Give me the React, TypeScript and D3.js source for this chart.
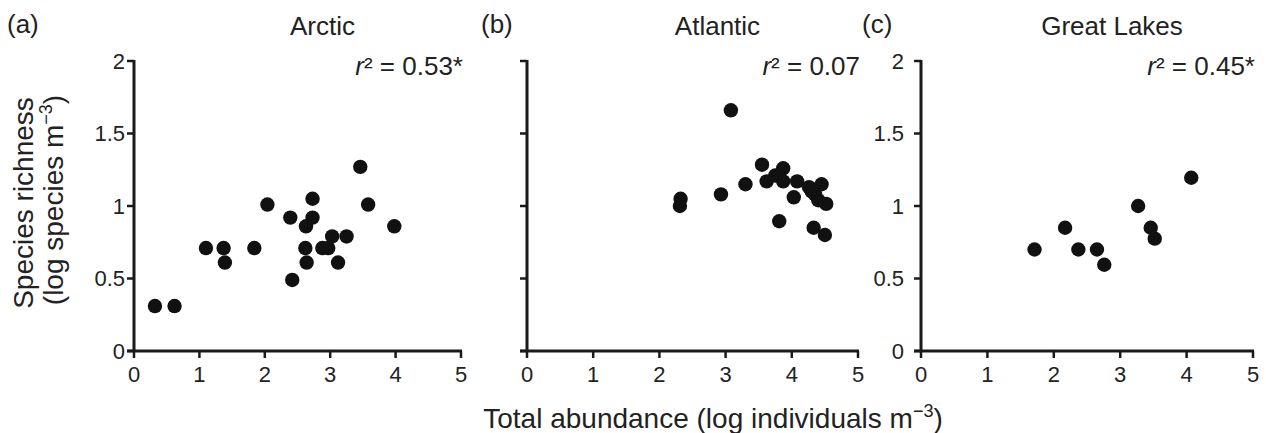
import React from 'react'
import * as d3 from 'd3'

// abundance (x) and richness (y), log scale
const arcticX = [0.32, 0.62, 1.1, 1.37, 1.39, 1.84, 2.04, 2.39, 2.42, 2.73, 2.73, 2.63, 2.62, 2.64, 2.88, 2.97, 3.03, 3.25, 3.12, 3.46, 3.58, 3.98];
const arcticY = [0.31, 0.31, 0.71, 0.71, 0.61, 0.71, 1.01, 0.92, 0.49, 1.05, 0.92, 0.86, 0.71, 0.61, 0.71, 0.71, 0.79, 0.79, 0.61, 1.27, 1.01, 0.86];

const atlanticX = [3.08, 2.32, 2.31, 2.93, 3.3, 3.55, 3.62, 3.75, 3.87, 3.87, 4.08, 4.26, 4.45, 4.35, 4.52, 4.03, 3.81, 4.33, 4.5, 4.3, 4.4];
const atlanticY = [1.66, 1.05, 1.0, 1.08, 1.15, 1.285, 1.17, 1.21, 1.26, 1.17, 1.17, 1.13, 1.15, 1.08, 1.015, 1.06, 0.895, 0.85, 0.8, 1.1, 1.04];

const lakesX = [1.71, 2.17, 2.37, 2.65, 2.76, 3.27, 3.46, 3.52, 4.07];
const lakesY = [0.7, 0.85, 0.7, 0.7, 0.595, 1.0, 0.85, 0.775, 1.195];

const xTicks = [0, 1, 2, 3, 4, 5];
const yTicks = [0, 0.5, 1, 1.5, 2];
const yTickLabels = ['0', '0.5', '1', '1.5', '2'];

const panelNames = ['Arctic', 'Atlantic', 'Great Lakes'];
const panelTags = ['(a)', '(b)', '(c)'];
const rSquared = ['0.53*', '0.07', '0.45*'];

const font = '"Liberation Sans", Arial, sans-serif';
const ink = '#1a1a1a';
const textInk = '#222';

const top = 61;
const bottom = 351;

const panels = [
  { left: 134, right: 461, tagX: 7, xs: arcticX, ys: arcticY, labels: true, labelGap: 9 },
  { left: 527, right: 858, tagX: 481, xs: atlanticX, ys: atlanticY, labels: false, labelGap: 9 },
  { left: 921, right: 1253, tagX: 862, xs: lakesX, ys: lakesY, labels: true, labelGap: 17 },
];

const Panel = ({ p, i }) => {
  const x = d3.scaleLinear().domain([0, 5]).range([p.left, p.right]);
  const y = d3.scaleLinear().domain([0, 2]).range([bottom, top]);
  const mid = (p.left + p.right) / 2 + 25;
  return (
    <g>
      <text x={p.tagX} y={33} fontSize={26} fill={textInk}>
        {panelTags[i]}
      </text>
      <text x={mid} y={35} fontSize={26} fill={textInk} textAnchor='middle'>
        {panelNames[i]}
      </text>
      <text x={p.right + 2} y={75} fontSize={26} fill={textInk} textAnchor='end'>
        <tspan fontStyle='italic'>r</tspan>² = {rSquared[i]}
      </text>

      {/* y axis */}
      <line x1={p.left} x2={p.left} y1={y(2) - 1} y2={y(0)} stroke={ink} strokeWidth={3} />
      {yTicks.map((t, k) => (
        <g key={k}>
          <line x1={p.left - 7} x2={p.left} y1={y(t)} y2={y(t)} stroke={ink} strokeWidth={2.5} />
          {p.labels && (
            <text x={p.left - p.labelGap} y={y(t)} dy='0.36em' fontSize={22}
              fill={textInk} textAnchor='end'>
              {yTickLabels[k]}
            </text>
          )}
        </g>
      ))}

      {/* x axis */}
      <line x1={x(0) - 7} x2={x(5) + 1} y1={y(0)} y2={y(0)} stroke={ink} strokeWidth={3} />
      {xTicks.map((t) => (
        <g key={t}>
          <line x1={x(t)} x2={x(t)} y1={y(0)} y2={y(0) + 7} stroke={ink} strokeWidth={2.5} />
          <text x={x(t)} y={382} fontSize={22} fill={textInk} textAnchor='middle'>
            {t}
          </text>
        </g>
      ))}

      {p.xs.map((v, k) => (
        <circle key={k} cx={x(v)} cy={y(p.ys[k])} r={7.2} fill='#111' />
      ))}
    </g>
  );
};

const App = () => (
  <svg width={1266} height={433} style={{ position: 'absolute', left: 0, top: 0, background: '#fff' }}
    fontFamily={font}>
    {panels.map((p, i) => (
      <Panel key={i} p={p} i={i} />
    ))}

    <text transform='translate(33,203) rotate(-90)' fontSize={28} fill={textInk} textAnchor='middle'>
      Species richness
    </text>
    <text transform='translate(63,200) rotate(-90)' fontSize={28} fill={textInk} textAnchor='middle'>
      (log species m<tspan fontSize={18} dy={-11}>−3</tspan><tspan dy={11}>)</tspan>
    </text>

    <text x={713} y={428} fontSize={28} fill={textInk} textAnchor='middle'>
      Total abundance (log individuals m<tspan fontSize={18} dy={-11}>−3</tspan><tspan dy={11}>)</tspan>
    </text>
  </svg>
);

export default App
